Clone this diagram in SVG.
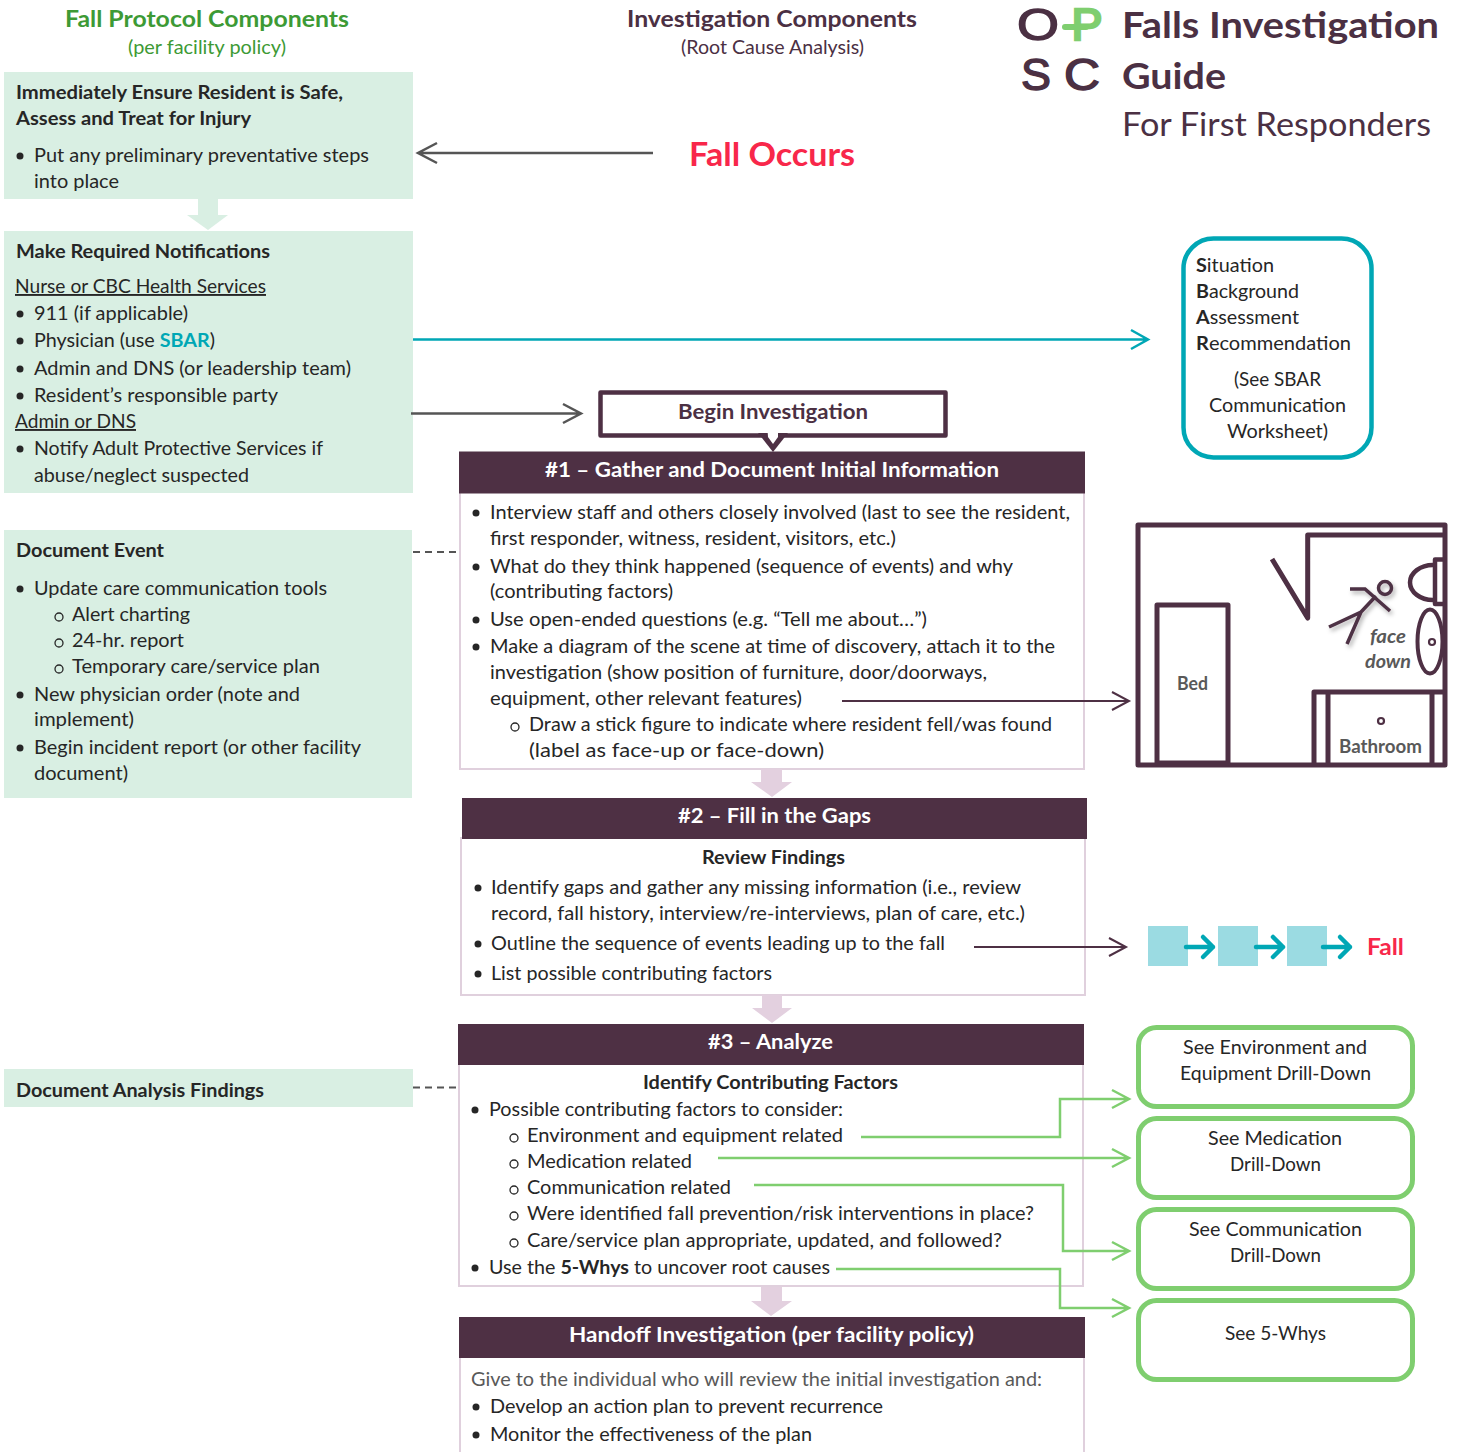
<svg xmlns="http://www.w3.org/2000/svg" width="1458" height="1452" viewBox="0 0 1458 1452">
<style>
text{font-family:"Lato","Liberation Sans",sans-serif;font-size:19px;fill:#262626}
.b{font-weight:700}
.u{text-decoration:underline}
.w{fill:#fff;font-weight:700;font-size:21px}
.p{fill:#4b3043}
.logo{font-family:"Liberation Sans",sans-serif;font-size:44px;fill:#4b3043;stroke:#4b3043;stroke-width:1.4px}
.mint{fill:#d9efe3}
.hdr{fill:#4e3044}
.body{fill:#fff;stroke:#e0d0dd;stroke-width:2}
.dn{fill:#e3d0df}
.gbox{fill:#fff;stroke:#7fce6f;stroke-width:5}
.dot{fill:#262626}
.ring{fill:none;stroke:#262626;stroke-width:1.3}
.room{fill:none;stroke:#4e3044;stroke-width:5;stroke-linejoin:round}
.c{fill:none}
.gl{stroke:#7fce6f;stroke-width:2.5}
.gray{stroke:#555;stroke-width:2.5}
.pl{stroke:#4e3044;stroke-width:2}
.te{stroke:#00a7b5;stroke-width:2.5}
.dash{stroke:#555;stroke-width:2;stroke-dasharray:7 5}
</style>
<defs>
<filter id="sh" x="-30%" y="-30%" width="170%" height="170%"><feDropShadow dx="2" dy="3" stdDeviation="2" flood-color="#000" flood-opacity=".3"/></filter>
</defs>
<rect width="1458" height="1452" fill="#fff"/>

<g id="headers">
<text x="65" y="27" textLength="284" lengthAdjust="spacingAndGlyphs" class="b" style="font-size:23px;fill:#3d9a35">Fall Protocol Components</text>
<text x="128" y="54" textLength="158" lengthAdjust="spacingAndGlyphs" style="fill:#3d9a35">(per facility policy)</text>
<text x="627" y="27" textLength="290" lengthAdjust="spacingAndGlyphs" class="b p" style="font-size:23px">Investigation Components</text>
<text x="681" y="54" textLength="183" lengthAdjust="spacingAndGlyphs" class="p">(Root Cause Analysis)</text>
</g>

<g id="logo">
<text x="1017" y="39.500" textLength="42" lengthAdjust="spacingAndGlyphs" class="logo">O</text>
<text x="1071.500" y="40" textLength="31" lengthAdjust="spacingAndGlyphs" class="logo" style="fill:#7fce6f;stroke:#7fce6f;stroke-width:2.500px">P</text>
<line x1="1065" y1="27" x2="1086" y2="27" stroke="#7fce6f" stroke-width="6" stroke-linecap="round"/>
<text x="1021" y="89.500" textLength="30" lengthAdjust="spacingAndGlyphs" class="logo">S</text>
<text x="1064" y="89.500" textLength="36" lengthAdjust="spacingAndGlyphs" class="logo">C</text>
</g>
<g id="title">
<text x="1122" y="38" textLength="317" lengthAdjust="spacingAndGlyphs" class="b p" style="font-size:36px">Falls Investigation</text>
<text x="1122" y="89" textLength="104" lengthAdjust="spacingAndGlyphs" class="b p" style="font-size:36px">Guide</text>
<text x="1122" y="136" textLength="309" lengthAdjust="spacingAndGlyphs" class="p" style="font-size:32px">For First Responders</text>
</g>

<g id="box-safe">
<rect class="mint" x="4" y="72" width="409" height="127"/>
<text x="16" y="99" textLength="327" lengthAdjust="spacingAndGlyphs" class="b">Immediately Ensure Resident is Safe,</text>
<text x="16" y="125" textLength="235" lengthAdjust="spacingAndGlyphs" class="b">Assess and Treat for Injury</text>
<circle class="dot" cx="20" cy="156" r="3.5"/>
<text x="34" y="162" textLength="335" lengthAdjust="spacingAndGlyphs">Put any preliminary preventative steps</text>
<text x="34" y="188" textLength="85" lengthAdjust="spacingAndGlyphs">into place</text>
</g>
<polygon id="arrow-left" class="mint" points="198,199 218,199 218,215 228,215 208,230 187,215 198,215"/>
<g id="box-notify">
<rect class="mint" x="4" y="231" width="409" height="262"/>
<text x="16" y="258" textLength="254" lengthAdjust="spacingAndGlyphs" class="b">Make Required Notifications</text>
<text x="15" y="293" textLength="251" lengthAdjust="spacingAndGlyphs" class="u">Nurse or CBC Health Services</text>
<circle class="dot" cx="20" cy="314" r="3.5"/>
<text x="34" y="320" textLength="154" lengthAdjust="spacingAndGlyphs">911 (if applicable)</text>
<circle class="dot" cx="20" cy="341" r="3.5"/>
<text x="34" y="347" textLength="181" lengthAdjust="spacingAndGlyphs">Physician (use <tspan class="b" style="fill:#00a7b5">SBAR</tspan>)</text>
<circle class="dot" cx="20" cy="369" r="3.5"/>
<text x="34" y="375" textLength="317" lengthAdjust="spacingAndGlyphs">Admin and DNS (or leadership team)</text>
<circle class="dot" cx="20" cy="396" r="3.5"/>
<text x="34" y="402" textLength="244" lengthAdjust="spacingAndGlyphs">Resident’s responsible party</text>
<text x="15" y="428" textLength="121" lengthAdjust="spacingAndGlyphs" class="u">Admin or DNS</text>
<circle class="dot" cx="20" cy="449" r="3.5"/>
<text x="34" y="455" textLength="289" lengthAdjust="spacingAndGlyphs">Notify Adult Protective Services if</text>
<text x="34" y="482" textLength="215" lengthAdjust="spacingAndGlyphs">abuse/neglect suspected</text>
</g>
<g id="box-document">
<rect class="mint" x="4" y="530" width="408" height="268"/>
<text x="16" y="557" textLength="148" lengthAdjust="spacingAndGlyphs" class="b">Document Event</text>
<circle class="dot" cx="20" cy="589" r="3.5"/>
<text x="34" y="595" textLength="293" lengthAdjust="spacingAndGlyphs">Update care communication tools</text>
<circle class="ring" cx="59" cy="617" r="4"/>
<text x="72" y="621" textLength="118" lengthAdjust="spacingAndGlyphs">Alert charting</text>
<circle class="ring" cx="59" cy="643" r="4"/>
<text x="72" y="647" textLength="112" lengthAdjust="spacingAndGlyphs">24-hr. report</text>
<circle class="ring" cx="59" cy="669" r="4"/>
<text x="72" y="673" textLength="248" lengthAdjust="spacingAndGlyphs">Temporary care/service plan</text>
<circle class="dot" cx="20" cy="695" r="3.5"/>
<text x="34" y="701" textLength="266" lengthAdjust="spacingAndGlyphs">New physician order (note and</text>
<text x="34" y="726" textLength="100" lengthAdjust="spacingAndGlyphs">implement)</text>
<circle class="dot" cx="20" cy="748" r="3.5"/>
<text x="34" y="754" textLength="327" lengthAdjust="spacingAndGlyphs">Begin incident report (or other facility</text>
<text x="34" y="780" textLength="94" lengthAdjust="spacingAndGlyphs">document)</text>
</g>
<g id="box-analysis">
<rect class="mint" x="4" y="1069" width="409" height="38"/>
<text x="16" y="1097" textLength="248" lengthAdjust="spacingAndGlyphs" class="b">Document Analysis Findings</text>
</g>

<g id="fall-occurs">
<text x="689" y="166" textLength="166" lengthAdjust="spacingAndGlyphs" class="b" style="font-size:32px;fill:#f8274a">Fall Occurs</text>
</g>

<g id="step1">
<rect class="body" x="460" y="492" width="624" height="277"/>
<rect class="hdr" x="459" y="451.500" width="626" height="42"/>
<text x="545" y="477" textLength="454" lengthAdjust="spacingAndGlyphs" class="w">#1 – Gather and Document Initial Information</text>
<circle class="dot" cx="476" cy="513" r="3.5"/>
<text x="490" y="519" textLength="580" lengthAdjust="spacingAndGlyphs">Interview staff and others closely involved (last to see the resident,</text>
<text x="490" y="545" textLength="406" lengthAdjust="spacingAndGlyphs">first responder, witness, resident, visitors, etc.)</text>
<circle class="dot" cx="476" cy="567" r="3.5"/>
<text x="490" y="573" textLength="523" lengthAdjust="spacingAndGlyphs">What do they think happened (sequence of events) and why</text>
<text x="490" y="598" textLength="183" lengthAdjust="spacingAndGlyphs">(contributing factors)</text>
<circle class="dot" cx="476" cy="620" r="3.5"/>
<text x="490" y="626" textLength="437" lengthAdjust="spacingAndGlyphs">Use open-ended questions (e.g. “Tell me about…”)</text>
<circle class="dot" cx="476" cy="647" r="3.5"/>
<text x="490" y="653" textLength="565" lengthAdjust="spacingAndGlyphs">Make a diagram of the scene at time of discovery, attach it to the</text>
<text x="490" y="679" textLength="497" lengthAdjust="spacingAndGlyphs">investigation (show position of furniture, door/doorways,</text>
<text x="490" y="705" textLength="312" lengthAdjust="spacingAndGlyphs">equipment, other relevant features)</text>
<circle class="ring" cx="515" cy="727" r="4"/>
<text x="529" y="731" textLength="523" lengthAdjust="spacingAndGlyphs">Draw a stick figure to indicate where resident fell/was found</text>
<text x="529" y="757" textLength="295" lengthAdjust="spacingAndGlyphs">(label as face-up or face-down)</text>
</g>
<polygon id="arrow-1-2" class="dn" points="761,769 782,769 782,782 792,782 772,797 751,782 761,782"/>

<g id="begin">
<rect x="600.500" y="392.500" width="345" height="43" fill="#fff" stroke="#4e3044" stroke-width="4.500" stroke-linejoin="round"/>
<polygon class="hdr" points="758,433 788,433 773,452"/>
<polygon fill="#fff" points="767.500,430 778,430 778,437 773,444 768,437"/>
<text x="678" y="419" textLength="190" lengthAdjust="spacingAndGlyphs" class="b p" style="font-size:21px">Begin Investigation</text>
</g>

<g id="step2">
<rect class="body" x="461" y="838" width="624" height="157"/>
<rect class="hdr" x="462" y="798" width="625" height="41"/>
<text x="678" y="823" textLength="193" lengthAdjust="spacingAndGlyphs" class="w">#2 – Fill in the Gaps</text>
<text x="702" y="864" textLength="143" lengthAdjust="spacingAndGlyphs" class="b">Review Findings</text>
<circle class="dot" cx="478" cy="888" r="3.5"/>
<text x="491" y="894" textLength="530" lengthAdjust="spacingAndGlyphs">Identify gaps and gather any missing information (i.e., review</text>
<text x="491" y="920" textLength="534" lengthAdjust="spacingAndGlyphs">record, fall history, interview/re-interviews, plan of care, etc.)</text>
<circle class="dot" cx="478" cy="944" r="3.5"/>
<text x="491" y="950" textLength="454" lengthAdjust="spacingAndGlyphs">Outline the sequence of events leading up to the fall</text>
<circle class="dot" cx="478" cy="974" r="3.5"/>
<text x="491" y="980" textLength="281" lengthAdjust="spacingAndGlyphs">List possible contributing factors</text>
</g>
<polygon id="arrow-2-3" class="dn" points="762,995 782,995 782,1008 792,1008 772,1023 752,1008 762,1008"/>

<g id="step3">
<rect class="body" x="459" y="1064" width="624" height="222"/>
<rect class="hdr" x="458" y="1024" width="626" height="41"/>
<text x="708" y="1049" textLength="125" lengthAdjust="spacingAndGlyphs" class="w">#3 – Analyze</text>
<text x="643" y="1089" textLength="255" lengthAdjust="spacingAndGlyphs" class="b">Identify Contributing Factors</text>
<circle class="dot" cx="475" cy="1110" r="3.5"/>
<text x="489" y="1116" textLength="354" lengthAdjust="spacingAndGlyphs">Possible contributing factors to consider:</text>
<circle class="ring" cx="514" cy="1138" r="4"/>
<text x="527" y="1142" textLength="316" lengthAdjust="spacingAndGlyphs">Environment and equipment related</text>
<circle class="ring" cx="514" cy="1164" r="4"/>
<text x="527" y="1168" textLength="165" lengthAdjust="spacingAndGlyphs">Medication related</text>
<circle class="ring" cx="514" cy="1190" r="4"/>
<text x="527" y="1194" textLength="204" lengthAdjust="spacingAndGlyphs">Communication related</text>
<circle class="ring" cx="514" cy="1216" r="4"/>
<text x="527" y="1220" textLength="507" lengthAdjust="spacingAndGlyphs">Were identified fall prevention/risk interventions in place?</text>
<circle class="ring" cx="514" cy="1243" r="4"/>
<text x="527" y="1247" textLength="475" lengthAdjust="spacingAndGlyphs">Care/service plan appropriate, updated, and followed?</text>
<circle class="dot" cx="475" cy="1268" r="3.5"/>
<text x="489" y="1274" textLength="341" lengthAdjust="spacingAndGlyphs">Use the <tspan class="b">5-Whys</tspan> to uncover root causes</text>
</g>
<polygon id="arrow-3-4" class="dn" points="761,1287 782,1287 782,1301 792,1301 771,1316 751,1301 761,1301"/>

<g id="step4">
<rect class="body" x="460" y="1357" width="624" height="110"/>
<rect class="hdr" x="459" y="1317" width="626" height="41"/>
<text x="569" y="1342" textLength="405" lengthAdjust="spacingAndGlyphs" class="w">Handoff Investigation (per facility policy)</text>
<text x="471" y="1386" textLength="571" lengthAdjust="spacingAndGlyphs" style="fill:#595959">Give to the individual who will review the initial investigation and:</text>
<circle class="dot" cx="476" cy="1407" r="3.5"/>
<text x="490" y="1413" textLength="393" lengthAdjust="spacingAndGlyphs">Develop an action plan to prevent recurrence</text>
<circle class="dot" cx="476" cy="1435" r="3.5"/>
<text x="490" y="1441" textLength="322" lengthAdjust="spacingAndGlyphs">Monitor the effectiveness of the plan</text>
</g>

<g id="sbar">
<rect x="1183.500" y="238.500" width="188" height="219" rx="30" fill="#fff" stroke="#00a7b5" stroke-width="4.500"/>
<text x="1196" y="272" textLength="78" lengthAdjust="spacingAndGlyphs"><tspan class="b">S</tspan>ituation</text>
<text x="1196" y="298" textLength="103" lengthAdjust="spacingAndGlyphs"><tspan class="b">B</tspan>ackground</text>
<text x="1196" y="324" textLength="103" lengthAdjust="spacingAndGlyphs"><tspan class="b">A</tspan>ssessment</text>
<text x="1196" y="350" textLength="155" lengthAdjust="spacingAndGlyphs"><tspan class="b">R</tspan>ecommendation</text>
<text x="1234" y="386" textLength="87" lengthAdjust="spacingAndGlyphs">(See SBAR</text>
<text x="1209" y="412" textLength="137" lengthAdjust="spacingAndGlyphs">Communication</text>
<text x="1227" y="438" textLength="101" lengthAdjust="spacingAndGlyphs">Worksheet)</text>
</g>

<g id="room">
<rect class="room" x="1138" y="525" width="307" height="240"/>
<path class="room" d="M1272 559L1307.700 618V535H1445"/>
<rect class="room" x="1157" y="605" width="71" height="158"/>
<path fill="none" stroke="#4e3044" stroke-width="4.500" d="M1435 565H1433A23 17.500 0 0 0 1433 600H1435"/>
<path fill="none" stroke="#4e3044" stroke-width="4.500" stroke-linejoin="round" d="M1445 559.500H1435V604H1445"/>
<ellipse cx="1430" cy="641.500" rx="12.500" ry="32" fill="#fff" stroke="#4e3044" stroke-width="4"/>
<circle cx="1432" cy="642" r="3" fill="#fff" stroke="#4e3044" stroke-width="2.200"/>
<path class="room" d="M1314 765V692H1445"/>
<path class="room" d="M1328 692V765M1432 692V765"/>
<circle cx="1381" cy="721" r="3" fill="#fff" stroke="#4e3044" stroke-width="2.200"/>
<text x="1339" y="753" textLength="83" lengthAdjust="spacingAndGlyphs" class="b" style="fill:#595959;font-size:18px">Bathroom</text>
<text x="1177" y="690" textLength="31" lengthAdjust="spacingAndGlyphs" class="b" style="fill:#595959;font-size:18px">Bed</text>
<g fill="none" stroke="#4e3044" stroke-width="3.500" filter="url(#sh)">
<circle cx="1385" cy="588" r="6.500"/>
<path d="M1350 589H1365L1390 611M1376 596L1361 612L1329 627M1361 612L1347 644"/>
</g>
<text x="1370" y="643" textLength="36" lengthAdjust="spacingAndGlyphs" class="b" style="fill:#595959;font-style:italic;font-size:18px">face</text>
<text x="1365" y="668" textLength="46" lengthAdjust="spacingAndGlyphs" class="b" style="fill:#595959;font-style:italic;font-size:18px">down</text>
</g>

<g id="sequence">
<rect x="1148" y="926" width="40" height="40" fill="#9bdbe2"/>
<rect x="1218" y="926" width="40" height="40" fill="#9bdbe2"/>
<rect x="1287" y="926" width="40" height="40" fill="#9bdbe2"/>
<g fill="none" stroke="#00a7b5" stroke-width="4.500" stroke-linecap="round" stroke-linejoin="round">
<path d="M1186 947H1213M1203 937L1213 947L1203 957"/>
<path d="M1256 947H1283M1273 937L1283 947L1273 957"/>
<path d="M1323 947H1350M1340 937L1350 947L1340 957"/>
</g>
<text x="1367" y="955" textLength="37" lengthAdjust="spacingAndGlyphs" class="b" style="font-size:22px;fill:#f8274a">Fall</text>
</g>

<g id="drill-env">
<rect class="gbox" x="1138.500" y="1027.500" width="274" height="79" rx="18"/>
<text x="1183" y="1054" textLength="184" lengthAdjust="spacingAndGlyphs">See Environment and</text>
<text x="1180" y="1080" textLength="191" lengthAdjust="spacingAndGlyphs">Equipment Drill-Down</text>
</g>
<g id="drill-med">
<rect class="gbox" x="1138.500" y="1118.500" width="274" height="79" rx="18"/>
<text x="1208" y="1145" textLength="134" lengthAdjust="spacingAndGlyphs">See Medication</text>
<text x="1230" y="1171" textLength="91" lengthAdjust="spacingAndGlyphs">Drill-Down</text>
</g>
<g id="drill-com">
<rect class="gbox" x="1138.500" y="1209.500" width="274" height="79" rx="18"/>
<text x="1189" y="1236" textLength="173" lengthAdjust="spacingAndGlyphs">See Communication</text>
<text x="1230" y="1262" textLength="91" lengthAdjust="spacingAndGlyphs">Drill-Down</text>
</g>
<g id="drill-why">
<rect class="gbox" x="1138.500" y="1300.500" width="274" height="79" rx="18"/>
<text x="1225" y="1340" textLength="101" lengthAdjust="spacingAndGlyphs">See 5-Whys</text>
</g>

<g id="connectors" fill="none">
<path class="c gray" d="M653 153H418M437 143L418 153L437 163"/>
<path class="c te" d="M413 339.500H1148M1131 330L1148 339.500L1131 349"/>
<path class="c gray" d="M411 413.500H581M563 404L581 413.500L563 423"/>
<path class="c dash" d="M413 552H459"/>
<path class="c dash" d="M413 1087.500H458"/>
<path class="c pl" d="M842 701H1129M1112 692L1129 701L1112 710"/>
<path class="c pl" d="M974 947H1126M1109 938L1126 947L1109 956"/>
<path class="c gl" d="M861 1137H1060V1099H1129M1112 1090L1129 1099L1112 1108"/>
<path class="c gl" d="M718 1158H1129M1112 1149L1129 1158L1112 1167"/>
<path class="c gl" d="M754 1185H1063V1251H1129M1112 1242L1129 1251L1112 1260"/>
<path class="c gl" d="M836 1269H1060V1308H1129M1112 1299L1129 1308L1112 1317"/>
</g>
</svg>
